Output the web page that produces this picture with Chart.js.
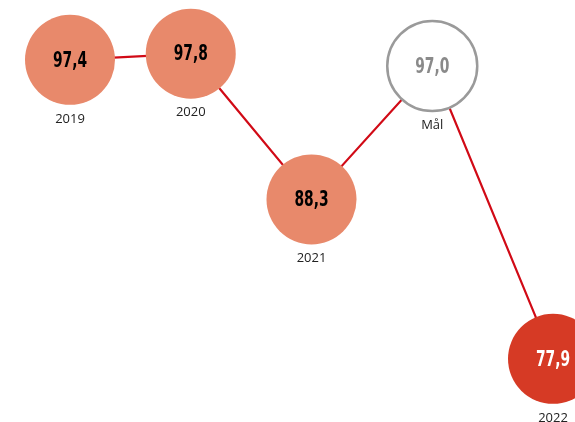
<!DOCTYPE html>
<html>
<head>
<meta charset="utf-8">
<script src="https://cdn.jsdelivr.net/npm/chart.js@4/dist/chart.umd.min.js"></script>
<style>
  html, body { margin: 0; padding: 0; background: #fff; }
  #wrap { width: 575px; height: 422px; }
</style>
</head>
<body>
<div id="wrap"><canvas id="scoreChart"></canvas></div>
<script>
// data
const categories = ["2019", "2020", "2021", "Mål", "2022"];
const scores = [97.4, 97.8, 88.3, 97.0, 77.9];

// per point look
const fillColors = ["#E8896B", "#E8896B", "#E8896B", "#FFFFFF", "#D63A25"];
const ringColors = ["#E8896B", "#E8896B", "#E8896B", "#9A9A9A", "#D63A25"];
const ringWidths = [0, 0, 0, 2.5, 0];
const valueColors = ["#000000", "#000000", "#000000", "#8A8A8A", "#FFFFFF"];

function formatScore(v) {
  return v.toFixed(1).replace(".", ",");
}

const bubbleLabels = {
  id: "bubbleLabels",
  afterDatasetsDraw(chart) {
    const ctx = chart.ctx;
    const points = chart.getDatasetMeta(0).data;
    points.forEach((pt, i) => {
      // squeezed bold figure inside the bubble
      ctx.save();
      ctx.translate(pt.x, pt.y + 1);
      ctx.scale(0.7, 1);
      ctx.fillStyle = valueColors[i];
      ctx.font = "bold 22px 'DejaVu Sans Condensed', 'DejaVu Sans', sans-serif";
      ctx.textAlign = "center";
      ctx.textBaseline = "middle";
      ctx.fillText(formatScore(scores[i]), 0, 0);
      ctx.restore();

      ctx.save();
      ctx.fillStyle = "#222222";
      ctx.font = "13px 'Open Sans', 'Noto Sans', sans-serif";
      ctx.textAlign = "center";
      ctx.textBaseline = "middle";
      ctx.fillText(categories[i], pt.x, pt.y + 59);
      ctx.restore();
    });
  }
};

const ctx = document.getElementById("scoreChart").getContext("2d");
new Chart(ctx, {
  type: "line",
  data: {
    labels: categories,
    datasets: [
      {
        data: scores,
        borderColor: "#D10A16",
        borderWidth: 2.2,
        tension: 0,
        clip: false,
        pointRadius: 45,
        pointHoverRadius: 45,
        pointBackgroundColor: fillColors,
        pointBorderColor: ringColors,
        pointBorderWidth: ringWidths,
      },
    ],
  },
  options: {
    responsive: true,
    maintainAspectRatio: false,
    animation: false,
    events: [],
    layout: {
      autoPadding: false,
      padding: { left: 70, right: 22, top: 20, bottom: 34 },
    },
    plugins: {
      legend: { display: false },
      tooltip: { enabled: false },
    },
    scales: {
      x: { display: false, offset: false },
      y: { display: false, min: 76, max: 100 },
    },
  },
  plugins: [bubbleLabels],
});
</script>
</body>
</html>
